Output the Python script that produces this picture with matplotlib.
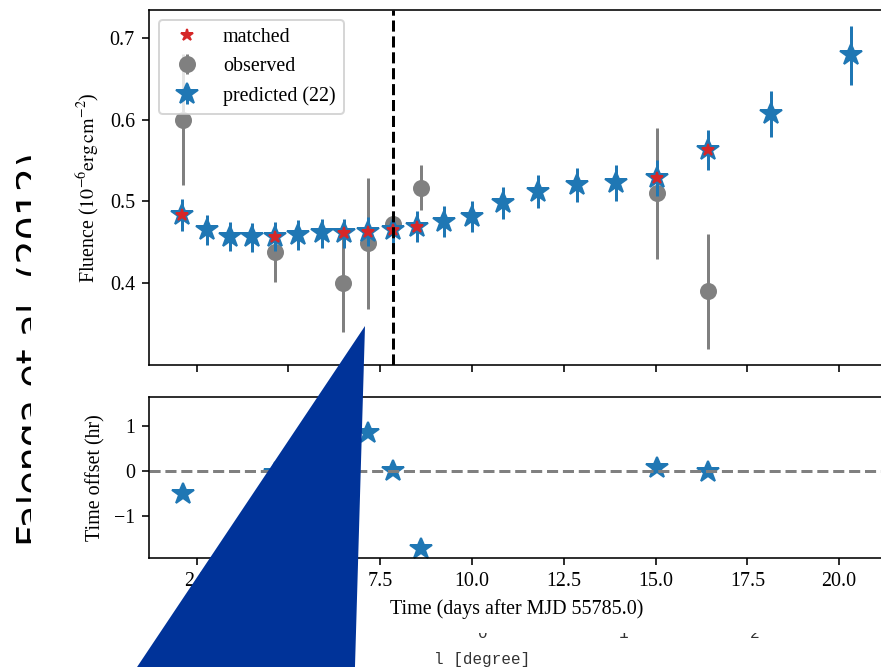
import matplotlib
matplotlib.use('Agg')
import matplotlib.pyplot as plt
from matplotlib.patches import Polygon
from matplotlib.transforms import Bbox

plt.rcParams['font.family'] = 'serif'
plt.rcParams['font.serif'] = ['Liberation Serif', 'DejaVu Serif']
plt.rcParams['mathtext.fontset'] = 'stix'
plt.rcParams['font.size'] = 10

W, H, DPI = 881, 667, 144

# ---------------- data ----------------
pred_t = [2.108, 2.772, 3.407, 3.998, 4.632, 5.267, 5.904, 6.520, 7.157, 7.838, 8.491,
          9.235, 9.989, 10.833, 11.803, 12.849, 13.919, 15.027, 16.432, 18.132, 20.337]
pred_f = [0.4834, 0.4651, 0.4569, 0.4562, 0.4569, 0.4590, 0.4610, 0.4610, 0.4630, 0.4651, 0.4690,
          0.4752, 0.4813, 0.4977, 0.5118, 0.5200, 0.5228, 0.5282, 0.5628, 0.6067, 0.6788]
pred_err = [0.019, 0.018, 0.018, 0.018, 0.018, 0.018, 0.018, 0.018, 0.018, 0.018, 0.019,
            0.019, 0.019, 0.0195, 0.020, 0.021, 0.022, 0.022, 0.024, 0.028, 0.036]
matched_idx = [0, 4, 7, 8, 9, 10, 17, 18]

obs_t = [2.118, 4.632, 6.476, 7.157, 7.838, 8.600, 15.027, 16.432]
obs_f = [0.600, 0.438, 0.400, 0.449, 0.472, 0.517, 0.510, 0.390]
obs_err = [0.080, 0.036, 0.060, 0.080, 0.012, 0.028, 0.080, 0.070]
offset_hr = [-0.51, -0.04, 0.40, 0.84, 0.00, -1.73, 0.06, -0.02]

ref_time = 7.838
n_pred_label = 22

# ---------------- figure ----------------
fig = plt.figure(figsize=(W / DPI, H / DPI), dpi=DPI)


def fx(px):
    return px / W


def fy(py):
    return 1 - py / H


left, right = fx(149), fx(885)
ax1 = fig.add_axes([left, fy(365), right - left, fy(10) - fy(365)])
ax2 = fig.add_axes([left, fy(558), right - left, fy(397) - fy(558)], sharex=ax1)

blue = '#1f77b4'
gray = 'gray'
red = '#d62728'

h_obs = ax1.errorbar(obs_t, obs_f, yerr=obs_err, fmt='o', color=gray, ms=7.5,
                     elinewidth=1.5, capsize=0, label='observed', zorder=2)
h_pred = ax1.errorbar(pred_t, pred_f, yerr=pred_err, fmt='*', color=blue, ms=11.5,
                      elinewidth=1.5, capsize=0, label=f'predicted ({n_pred_label})', zorder=3)
m_t = [pred_t[i] for i in matched_idx]
m_f = [pred_f[i] for i in matched_idx]
h_m, = ax1.plot(m_t, m_f, '*', color=red, ms=6, linestyle='none', label='matched', zorder=4)
ax1.axvline(ref_time, color='black', ls='--', lw=1.5, zorder=5)
ax1.set_ylim(0.30, 0.734)
ax1.set_yticks([0.4, 0.5, 0.6, 0.7])
ax1.set_ylabel(r'Fluence ($10^{-6}\mathrm{erg\,cm^{-2}}$)')
ax1.tick_params(labelbottom=False)
ax1.legend(handles=[h_m, h_obs, h_pred], loc='upper left')

ax2.plot(obs_t, offset_hr, '*', color=blue, ms=11.5, linestyle='none')
ax2.axhline(0, color='gray', ls='--', lw=1.5)
ax2.set_ylim(-1.94, 1.64)
ax2.set_yticks([-1, 0, 1])
ax2.set_ylabel('Time offset (hr)')
ax2.set_xlabel('Time (days after MJD 55785.0)')
ax2.set_xlim(1.2, 21.25)

# ---------------- overlapping artefacts ----------------
big = fig.text(fx(44), fy(546), 'Falenga et al. (2012)', rotation=90,
               rotation_mode='anchor', ha='left', va='baseline',
               family='DejaVu Sans', fontsize=19, color='black')
big.set_clip_box(Bbox.from_extents(16, 0, 31, H))
big.set_clip_on(True)

for lab, px in [('0', 483), ('1', 624), ('2', 755)]:
    t = fig.text(fx(px), fy(638), lab, ha='center', va='baseline',
                 family='Liberation Mono', fontsize=8, color='#333333')
    t.set_clip_box(Bbox.from_extents(0, 0, W, H - 633))
    t.set_clip_on(True)

fig.text(fx(482), fy(664), 'l [degree]', ha='center', va='baseline',
         family='Liberation Mono', fontsize=8, color='#333333')

poly = Polygon([(fx(365), fy(326)), (fx(115), fy(700)), (fx(354), fy(700))],
               closed=True, transform=fig.transFigure, facecolor='#003399',
               edgecolor='none', zorder=100)
fig.add_artist(poly)

fig.savefig('out.png', dpi=DPI)
